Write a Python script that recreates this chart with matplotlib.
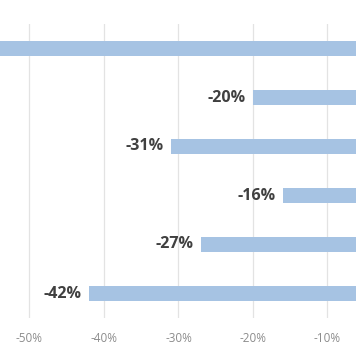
import matplotlib
matplotlib.use("Agg")
import matplotlib.pyplot as plt

categories = ["A", "B", "C", "D", "E", "F"]
values = [-60, -20, -31, -16, -27, -42]
labels = ["-60%", "-20%", "-31%", "-16%", "-27%", "-42%"]
xticks = [-50, -40, -30, -20, -10]
xticklabels = ["-50%", "-40%", "-30%", "-20%", "-10%"]

fig = plt.figure(figsize=(3.56, 3.64), dpi=100)
ax = fig.add_axes([0, (364 - 318) / 364, 1, 294 / 364])

xmin, xmax = -53.96, -6.17
y = list(range(len(categories)))
ax.barh(y, values, height=0.3, color="#A6C3E3", zorder=2)
for yi, v, lab in zip(y, values, labels):
    if v - 1.0 < xmin + 6:
        continue  # label falls outside the visible area, as in the reference
    ax.text(v - 1.0, yi, lab, ha="right", va="center", fontsize=11.5,
            fontweight="bold", color="#404040", family="Open Sans")

ax.set_xlim(xmin, xmax)
ax.set_ylim(5.5, -0.5)
ax.set_xticks(xticks)
ax.set_xticklabels(xticklabels, fontsize=8.5, color="#8C8C8C", family="Open Sans")
ax.set_yticks([])
ax.tick_params(axis="x", length=0, pad=10)
ax.grid(axis="x", color="#E3E3E3", linewidth=0.9, zorder=0)
for s in ax.spines.values():
    s.set_visible(False)

fig.savefig("out.png", dpi=100)
